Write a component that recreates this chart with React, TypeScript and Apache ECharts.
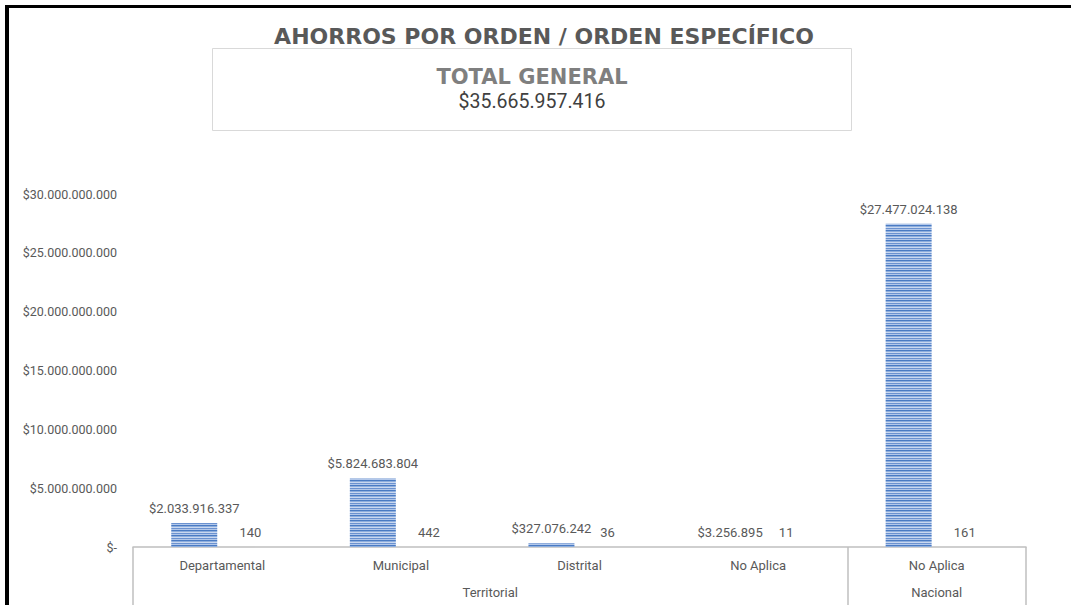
import React, { useEffect, useRef } from "react";
import * as echarts from "echarts";

const chartTitle = "AHORROS POR ORDEN / ORDEN ESPECÍFICO";
const totalTitle = "TOTAL GENERAL";
const totalValue = 35665957416;

const categories = ["Departamental", "Municipal", "Distrital", "No Aplica", "No Aplica"];
const groups = ["Territorial", "Nacional"];
const groupSpans = [4, 1];
const ahorros = [2033916337, 5824683804, 327076242, 3256895, 27477024138];
const cantidades = [140, 442, 36, 11, 161];

const yMin = 0;
const yMax = 30000000000;
const yInterval = 5000000000;

const fmt = (n: number) => String(Math.round(n)).replace(/\B(?=(\d{3})+(?!\d))/g, ".");
const money = (n: number) => (n === 0 ? "$-" : "$" + fmt(n));

function stripes() {
  const cols = ["#4a7bc3", "#8eaedd", "#c9d8f0", "#6b92d0", "#b3c8ea"];
  const top = 150;
  const bottom = 560;
  const span = bottom - top;
  const stops: { offset: number; color: string }[] = [];
  for (let y = 0; y < span; y++) {
    const c = cols[y % cols.length];
    stops.push({ offset: y / span, color: c });
    stops.push({ offset: (y + 1) / span, color: c });
  }
  return new echarts.graphic.LinearGradient(0, top, 0, bottom, stops, true);
}

export default function App() {
  const ref = useRef<HTMLDivElement>(null);
  useEffect(() => {
    if (!ref.current) return;
    const chart = echarts.init(ref.current, null, { renderer: "svg" });
    const grey = "#595959";
    const dark = "#404040";
    const axisGrey = "#bfbfbf";
    const total = groupSpans.reduce((a, b) => a + b, 0);
    const groupCenters: number[] = [];
    const groupBounds: number[] = [0];
    let acc = 0;
    groupSpans.forEach((s) => {
      groupCenters.push(acc + s / 2);
      acc += s;
      groupBounds.push(acc);
    });
    chart.setOption({
      animation: false,
      backgroundColor: "#ffffff",
      textStyle: { fontFamily: "Roboto" },
      grid: { left: 133, right: 45, top: 194, bottom: 58, containLabel: false },
      xAxis: [
        {
          type: "category",
          data: categories,
          axisLine: { show: true, lineStyle: { color: axisGrey, width: 1.5 } },
          axisTick: { show: false },
          axisLabel: { color: grey, fontSize: 13, margin: 12, interval: 0 },
          splitLine: { show: false },
        },
        {
          type: "value",
          position: "bottom",
          min: 0,
          max: total,
          axisLine: { show: false },
          splitLine: { show: false },
          axisTick: {
            show: true,
            length: 60,
            customValues: groupBounds,
            lineStyle: { color: axisGrey, width: 1.5 },
          },
          axisLabel: {
            show: true,
            customValues: groupCenters,
            margin: 39,
            color: grey,
            fontSize: 13,
            formatter: (v: number) => {
              const i = groupCenters.findIndex((c) => Math.abs(c - v) < 1e-6);
              return i >= 0 ? groups[i] : "";
            },
          },
        },
      ],
      yAxis: {
        type: "value",
        min: yMin,
        max: yMax,
        interval: yInterval,
        axisLine: { show: false },
        axisTick: { show: false },
        splitLine: { show: false },
        axisLabel: { color: grey, fontSize: 12.5, margin: 16, formatter: (v: number) => money(v) },
      },
      series: [
        {
          name: "Ahorros",
          type: "bar",
          xAxisIndex: 0,
          data: ahorros,
          barWidth: 46,
          barGap: "22%",
          itemStyle: { color: stripes() },
          label: {
            show: true,
            position: "top",
            distance: 8,
            color: grey,
            fontSize: 13,
            formatter: (p: any) => money(p.value),
          },
        },
        {
          name: "Cantidad",
          type: "bar",
          xAxisIndex: 0,
          data: cantidades,
          barWidth: 46,
          itemStyle: { color: "rgba(0,0,0,0)" },
          label: {
            show: true,
            position: "top",
            distance: 8,
            color: grey,
            fontSize: 13,
            formatter: (p: any) => String(p.value),
          },
        },
      ],
      graphic: [
        { type: "rect", shape: { x: 5, y: 5, width: 4, height: 600 }, style: { fill: "#000" }, silent: true },
        { type: "rect", shape: { x: 5, y: 5, width: 1066, height: 3 }, style: { fill: "#000" }, silent: true },
        {
          type: "text",
          x: 544,
          y: 36,
          style: {
            text: chartTitle,
            fill: grey,
            font: "bold 22px 'DejaVu Sans'",
            align: "center",
            verticalAlign: "middle",
          },
        },
        {
          type: "rect",
          shape: { x: 212.5, y: 48.5, width: 639, height: 82 },
          style: { fill: "#fff", stroke: "#d9d9d9", lineWidth: 1 },
        },
        {
          type: "text",
          x: 532,
          y: 77,
          style: {
            text: totalTitle,
            fill: "#7f7f7f",
            font: "bold 21px 'DejaVu Sans'",
            align: "center",
            verticalAlign: "middle",
          },
        },
        {
          type: "text",
          x: 532,
          y: 101,
          style: {
            text: money(totalValue),
            fill: dark,
            font: "19.5px Roboto",
            align: "center",
            verticalAlign: "middle",
          },
        },
      ],
    });
    return () => chart.dispose();
  }, []);
  return (
    <div
      ref={ref}
      style={{ position: "fixed", left: 0, top: 0, width: 1071, height: 605, background: "#fff" }}
    />
  );
}
